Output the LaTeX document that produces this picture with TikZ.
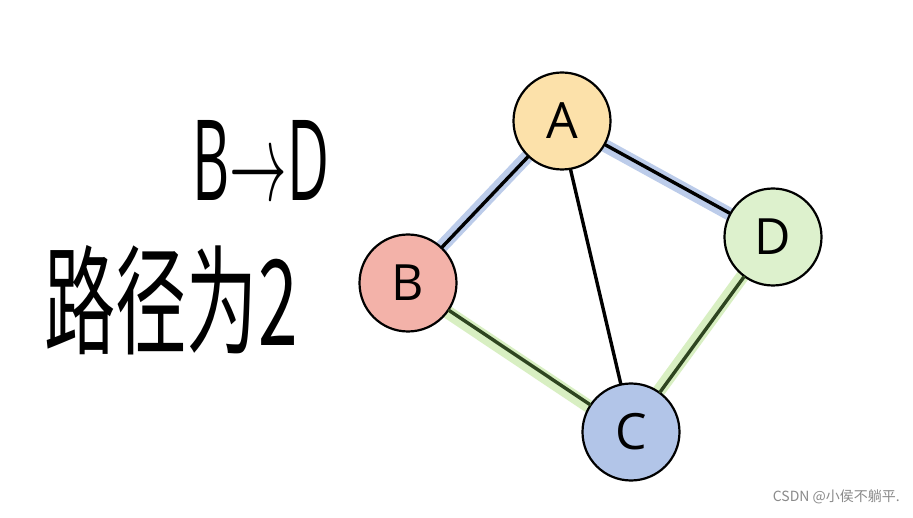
\documentclass[tikz,border=0pt]{standalone}
\usepackage{fontspec}
\usepackage{graphicx}
\usetikzlibrary{calc}
\setmainfont{Open Sans}
\newfontfamily\cjk{Noto Sans CJK SC}
\definecolor{afill}{HTML}{FCE1AA}
\definecolor{bfill}{HTML}{F3B2A9}
\definecolor{cfill}{HTML}{B2C5E8}
\definecolor{dfill}{HTML}{DDF1CD}
\definecolor{bluehl}{HTML}{BCCCEA}
\definecolor{greenhl}{HTML}{D8EFC2}
\definecolor{darkgreen}{HTML}{2E4520}
\definecolor{wm}{HTML}{8A8A8A}
\tikzset{
  vtx/.style={circle, draw=black, line width=2.2pt, minimum size=97pt, inner sep=0pt,
    font=\fontsize{50}{50}\selectfont},
  blackedge/.style={draw=black, line width=3.4pt, line cap=round},
  greenedge/.style={draw=darkgreen, line width=3.4pt, line cap=round},
  bluehalo/.style={draw=bluehl, line width=13pt, line cap=round},
  greenhalo/.style={draw=greenhl, line width=13pt, line cap=round},
  hand/.style={inner sep=0pt, anchor=center}
}
\begin{document}
\begin{tikzpicture}[x=1pt,y=-1pt]
\useasboundingbox[fill=white] (0,0) rectangle (913,518);
\coordinate (pA) at (562,121);
\coordinate (pB) at (408,283);
\coordinate (pC) at (631,432);
\coordinate (pD) at (773,237);
% halos behind
\draw[bluehalo] ($(pA)+(-2,1)$) -- ($(pB)+(-2,1)$);
\draw[bluehalo] ($(pA)+(0,1)$) -- ($(pD)+(0,1)$);
\draw[greenhalo] ($(pB)+(-1,2)$) -- ($(pC)+(-1,2)$);
\draw[greenhalo] ($(pC)+(-2,0)$) -- ($(pD)+(-2,0)$);
% nodes
\node[vtx, fill=afill] (A) at (pA) {A};
\node[vtx, fill=bfill] (B) at (pB) {B};
\node[vtx, fill=cfill] (C) at (pC) {C};
\node[vtx, fill=dfill] (D) at (pD) {D};
% edges
\draw[blackedge] (A) -- (B);
\draw[blackedge] (A) -- (D);
\draw[blackedge] (A.-80) -- (C.102);
\draw[greenedge] (B) -- (C);
\draw[greenedge] (C) -- (D);
% handwritten texts
\node[hand] (t1) at (261,160) {\resizebox{137pt}{80pt}{B$\rightarrow$D}};
\node[hand] (t2) at (171,300) {\resizebox{253pt}{100pt}{\cjk 路径为2}};
% watermark
\node[anchor=east, inner sep=0pt, text=wm, font=\cjk\fontsize{14}{14}\selectfont] (wmk) at (900,497) {CSDN @小侯不躺平.};
\end{tikzpicture}
\end{document}
